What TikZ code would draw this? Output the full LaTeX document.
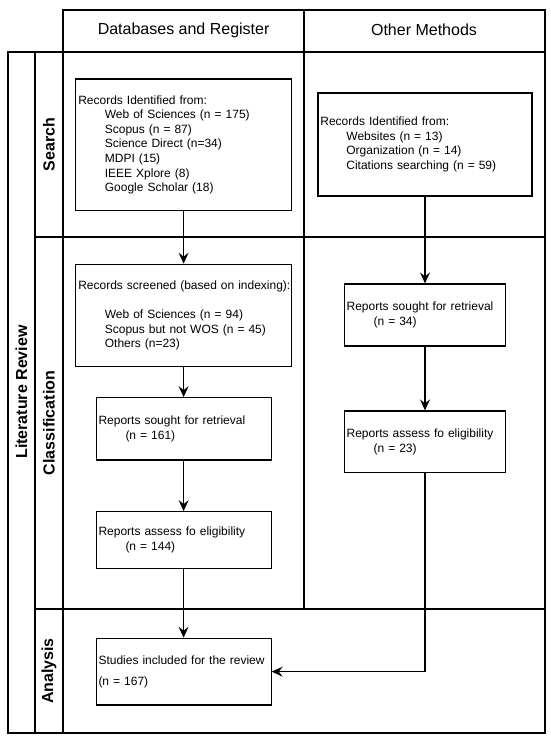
\documentclass[tikz,border=0pt]{standalone}
\usepackage{fontspec}
\setmainfont{Liberation Sans}
\usetikzlibrary{arrows.meta}
\begin{document}
\begin{tikzpicture}[x=1pt,y=-1pt,
  frame/.style={line width=1.2pt, draw=black},
  box/.style={draw=black, line width=1.2pt, rectangle, inner xsep=2.4pt, inner ysep=0pt,
    align=left, font=\fontsize{12}{14.6}\selectfont},
  phase/.style={rotate=90, font=\bfseries\fontsize{16}{19}\selectfont},
  head/.style={font=\fontsize{16}{19}\selectfont},
  arr/.style={line width=1.2pt, -{Stealth[length=11pt,width=10pt,inset=4pt]}}
]
\useasboundingbox (0,0) rectangle (550,742);
% frame
\draw[frame] (63,10) rectangle (545,52);
\draw[frame] (8,52) rectangle (545,733);
\draw[frame] (35,52) -- (35,733);
\draw[frame] (63,52) -- (63,733);
\draw[frame] (304,10) -- (304,609);
\draw[frame] (35,237) -- (545,237);
\draw[frame] (35,609) -- (545,609);
% headers
\node[head] (hdb) at (183.6,30) {Databases and Register};
\node[head] (hot) at (424,30) {Other Methods};
% phase labels
\node[phase] (lr) at (21.5,392) {Literature Review};
\node[phase] (ps) at (49,144.5) {Search};
\node[phase] (pc) at (49,423) {Classification};
\node[phase] (pa) at (49,671) {Analysis};
% boxes
\node[box, minimum width=215.5pt, minimum height=131.7pt, text width=210.7pt] (A) at (183.6,144.85)
 {Records Identified from:\\
 \hspace*{26.6pt}Web of Sciences (n = 175)\\
 \hspace*{26.6pt}Scopus (n = 87)\\
 \hspace*{26.6pt}Science Direct (n=34)\\
 \hspace*{26.6pt}MDPI (15)\\
 \hspace*{26.6pt}IEEE Xplore (8)\\
 \hspace*{26.6pt}Google Scholar (18)};
\node[box, minimum width=214pt, minimum height=103pt, text width=209.2pt] (B) at (425,144.5)
 {Records Identified from:\\
 \hspace*{26pt}Websites (n = 13)\\
 \hspace*{26pt}Organization (n = 14)\\
 \hspace*{26pt}Citations searching (n = 59)};
\node[box, minimum width=215.5pt, minimum height=102.4pt, text width=210.7pt] (C) at (183.6,315.5)
 {\mbox{Records screened (based on indexing):}\\[14.6pt]
 \hspace*{26.6pt}Web of Sciences (n = 94)\\
 \hspace*{26.6pt}Scopus but not WOS (n = 45)\\
 \hspace*{26.6pt}Others (n=23)};
\node[box, minimum width=175pt, minimum height=62.3pt, text width=170.2pt] (D) at (183.6,428.85)
 {Reports sought for retrieval\\
 \hspace*{27pt}(n = 161)};
\node[box, minimum width=175pt, minimum height=56.6pt, text width=170.2pt] (E) at (183.6,540)
 {Reports assess fo eligibility\\
 \hspace*{27pt}(n = 144)};
\node[box, minimum width=175pt, minimum height=66.7pt, text width=170.2pt] (F) at (183.6,671.65)
 {Studies included for the review\\[6pt]
 (n = 167)};
\node[box, minimum width=161.5pt, minimum height=62pt, text width=156.7pt] (G) at (425,315)
 {Reports sought for retrieval\\
 \hspace*{27pt}(n = 34)};
\node[box, minimum width=161.5pt, minimum height=61.7pt, text width=156.7pt] (H) at (425,441.85)
 {Reports assess fo eligibility\\
 \hspace*{27pt}(n = 23)};
% connectors
\draw[arr] (A.south) -- (C.north);
\draw[arr] (C.south) -- (D.north);
\draw[arr] (D.south) -- (E.north);
\draw[arr] (E.south) -- (F.north);
\draw[arr] (B.south) -- (G.north);
\draw[arr] (G.south) -- (H.north);
\draw[arr] (H.south) |- (F.east);
\end{tikzpicture}
\end{document}
